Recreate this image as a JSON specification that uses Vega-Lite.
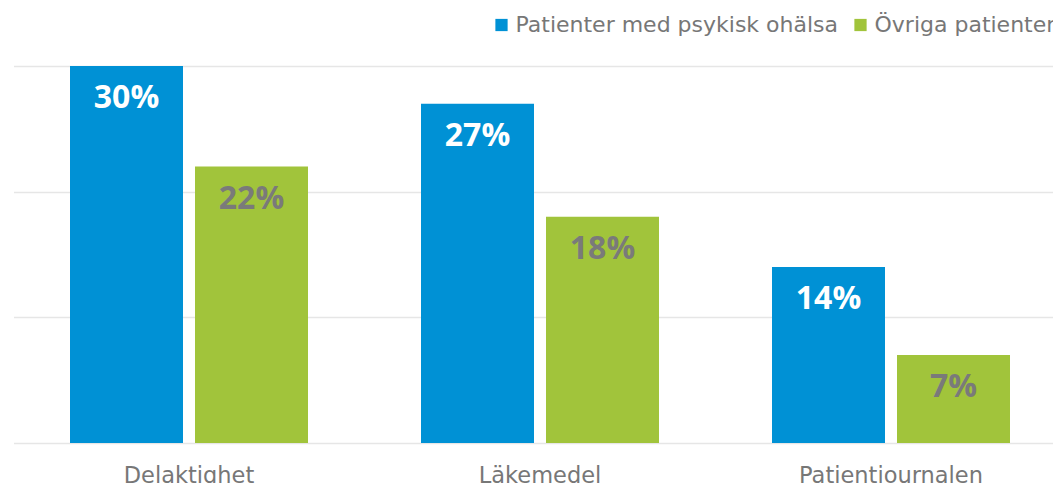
{
  "$schema": "https://vega.github.io/schema/vega-lite/v6.json",
  "width": 1053,
  "height": 377,
  "autosize": "none",
  "padding": {"left": 13.5, "top": 66, "right": 0, "bottom": 40},
  "background": "white",
  "config": {"view": {"stroke": null}, "font": "Open Sans"},
  "data": {
    "values": [
      {"kategori": "Delaktighet", "grupp": "Patienter med psykisk ohälsa", "andel": 0.30},
      {"kategori": "Delaktighet", "grupp": "Övriga patienter", "andel": 0.22},
      {"kategori": "Läkemedel", "grupp": "Patienter med psykisk ohälsa", "andel": 0.27},
      {"kategori": "Läkemedel", "grupp": "Övriga patienter", "andel": 0.18},
      {"kategori": "Patientjournalen", "grupp": "Patienter med psykisk ohälsa", "andel": 0.14},
      {"kategori": "Patientjournalen", "grupp": "Övriga patienter", "andel": 0.07}
    ]
  },
  "encoding": {
    "x": {
      "field": "kategori", "type": "nominal",
      "sort": ["Delaktighet", "Läkemedel", "Patientjournalen"],
      "scale": {"paddingInner": 0, "paddingOuter": 0},
      "axis": {"title": null, "labelAngle": 0, "labelFont": "DejaVu Sans", "labelFontSize": 22.5, "labelColor": "#777777", "labelLimit": 400, "ticks": false, "domain": false, "labelPadding": 21, "grid": false}
    },
    "xOffset": {
      "field": "grupp", "type": "nominal",
      "sort": ["Patienter med psykisk ohälsa", "Övriga patienter"],
      "scale": {"paddingInner": 0.096, "paddingOuter": 0.452}
    },
    "y": {
      "field": "andel", "type": "quantitative",
      "scale": {"domain": [0, 0.3], "nice": false},
      "axis": {"title": null, "labels": false, "ticks": false, "domain": false, "values": [0, 0.1, 0.2, 0.3], "gridColor": "#e6e6e6", "gridWidth": 1.5}
    }
  },
  "layer": [
    {
      "mark": {"type": "bar"},
      "encoding": {
        "color": {
          "field": "grupp", "type": "nominal",
          "sort": ["Patienter med psykisk ohälsa", "Övriga patienter"],
          "scale": {"range": ["#0091d5", "#a1c43b"]},
          "legend": {
            "title": null, "orient": "none", "direction": "horizontal",
            "legendX": 477, "legendY": -52,
            "symbolType": "square", "symbolSize": 150, "symbolStrokeWidth": 0,
            "labelFont": "DejaVu Sans", "labelFontSize": 22, "labelColor": "#777777", "labelOffset": 3, "labelLimit": 500,
            "columnPadding": 11
          }
        }
      }
    },
    {
      "mark": {"type": "text", "baseline": "alphabetic", "dy": 42, "fontSize": 32, "fontWeight": "bold"},
      "encoding": {
        "text": {"field": "andel", "type": "quantitative", "format": ".0%"},
        "color": {
          "condition": {"test": "datum.grupp === 'Patienter med psykisk ohälsa'", "value": "white"},
          "value": "#7a7a7a"
        }
      }
    }
  ]
}
